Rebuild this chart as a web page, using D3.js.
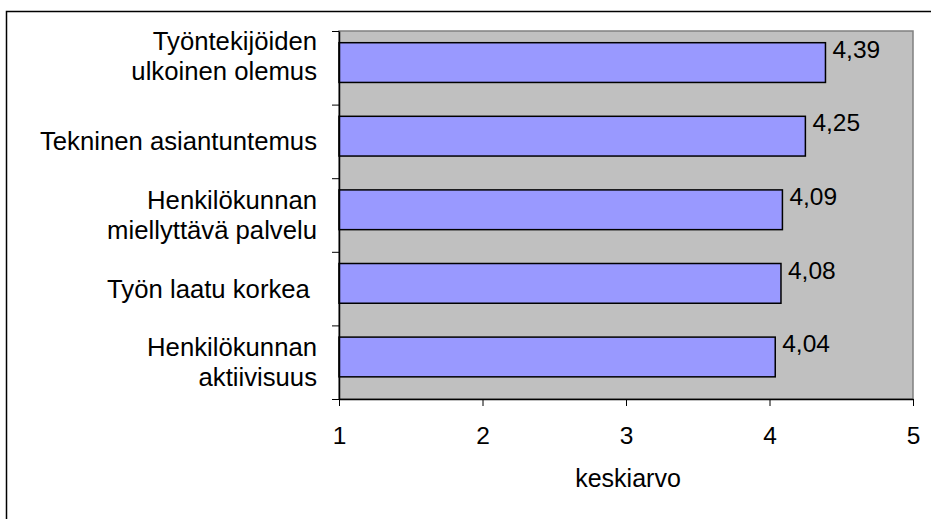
<!DOCTYPE html>
<html>
<head>
<meta charset="utf-8">
<script src="https://cdn.jsdelivr.net/npm/d3@7"></script>
<style>
  body { margin: 0; background: #fff; }
  text { font-family: "Liberation Sans", Arial, sans-serif; fill: #000; }
</style>
</head>
<body>
<div id="chart"></div>
<script>
// Datos
const categories = [
  "Työntekijöiden ulkoinen olemus",
  "Tekninen asiantuntemus",
  "Henkilökunnan miellyttävä palvelu",
  "Työn laatu korkea ",
  "Henkilökunnan aktiivisuus"
]
const labelLines = [
  ["Työntekijöiden", "ulkoinen olemus"],
  ["Tekninen asiantuntemus"],
  ["Henkilökunnan", "miellyttävä palvelu"],
  ["Työn laatu korkea "],
  ["Henkilökunnan", "aktiivisuus"]
]
const values = [4.39, 4.25, 4.09, 4.08, 4.04]
const xTicks = [1, 2, 3, 4, 5]
const xTitle = "keskiarvo"

const width = 931, height = 519
const plot = {left: 339, right: 913, top: 31, bottom: 399}

const svg = d3.select("#chart")
  .append("svg")
    .attr("width", width)
    .attr("height", height)

// marco exterior (recortado a derecha y abajo)
svg.append("rect")
  .attr("x", 6.5).attr("y", 11.5)
  .attr("width", 940).attr("height", 540)
  .attr("fill", "#fff")
  .attr("stroke", "#000")
  .attr("stroke-width", 1.5)

const x = d3.scaleLinear().domain([1, 5]).range([plot.left, plot.right])
const y = d3.scaleBand().domain(categories).range([plot.top, plot.bottom]).padding(0)
const band = y.bandwidth()

// área del gráfico
svg.append("rect")
  .attr("x", plot.left).attr("y", plot.top)
  .attr("width", plot.right - plot.left)
  .attr("height", plot.bottom - plot.top)
  .attr("fill", "#c0c0c0")
  .attr("stroke", "#808080")
  .attr("stroke-width", 1.5)

// barras
svg.selectAll("rect.bar")
  .data(values)
  .join("rect")
    .attr("class", "bar")
    .attr("x", x(1))
    .attr("y", (d, i) => y(categories[i]) + band * 0.159)
    .attr("width", d => x(d) - x(1))
    .attr("height", band * 0.54)
    .attr("fill", "#9999ff")
    .attr("stroke", "#000")
    .attr("stroke-width", 1.5)

// etiquetas de valor
svg.selectAll("text.val")
  .data(values)
  .join("text")
    .attr("class", "val")
    .attr("x", d => x(d) + 7)
    .attr("y", (d, i) => y(categories[i]) + band * 0.159 + 15)
    .attr("font-size", 24.5)
    .text(d => d3.format(".2f")(d).replace(".", ","))

// eje X
const xAxis = svg.append("g")
  .attr("transform", `translate(0,${plot.bottom})`)
  .call(d3.axisBottom(x).tickValues(xTicks).tickFormat(d3.format("d"))
    .tickSize(7).tickSizeOuter(0).tickPadding(21))
xAxis.select(".domain").attr("stroke", "#000").attr("stroke-width", 1.5)
xAxis.selectAll(".tick line").attr("stroke", "#000")
xAxis.selectAll(".tick text")
  .attr("font-size", 24.5)
  .attr("font-family", "Liberation Sans, Arial, sans-serif")

// eje Y (marcas entre categorías)
const yIdx = d3.scaleLinear().domain([0, categories.length]).range([plot.top, plot.bottom])
const yAxis = svg.append("g")
  .attr("transform", `translate(${plot.left},0)`)
  .call(d3.axisLeft(yIdx).tickValues(d3.range(categories.length + 1)).tickFormat("").tickSize(7).tickSizeOuter(0))
yAxis.select(".domain").attr("stroke", "#000").attr("stroke-width", 1.5)
yAxis.selectAll(".tick line").attr("stroke", "#000")

// etiquetas de categoría
const lineH = 30
svg.selectAll("text.cat")
  .data(labelLines)
  .join("text")
    .attr("class", "cat")
    .attr("font-size", 25.7)
    .attr("text-anchor", "end")
    .style("white-space", "pre")
    .attr("transform", (d, i) => {
      const c = y(categories[i]) + band / 2 - (i === 0 ? 12 : 0)
      const first = c - (d.length - 1) * lineH / 2 + 9
      return `translate(${plot.left - 22},${first})`
    })
  .selectAll("tspan")
  .data(d => d)
  .join("tspan")
    .attr("x", 0)
    .attr("dy", (d, i) => i === 0 ? 0 : lineH)
    .text(d => d)

// título del eje X
svg.append("text")
  .attr("x", (plot.left + plot.right) / 2 + 2)
  .attr("y", 487)
  .attr("text-anchor", "middle")
  .attr("font-size", 25)
  .text(xTitle)
</script>
</body>
</html>
